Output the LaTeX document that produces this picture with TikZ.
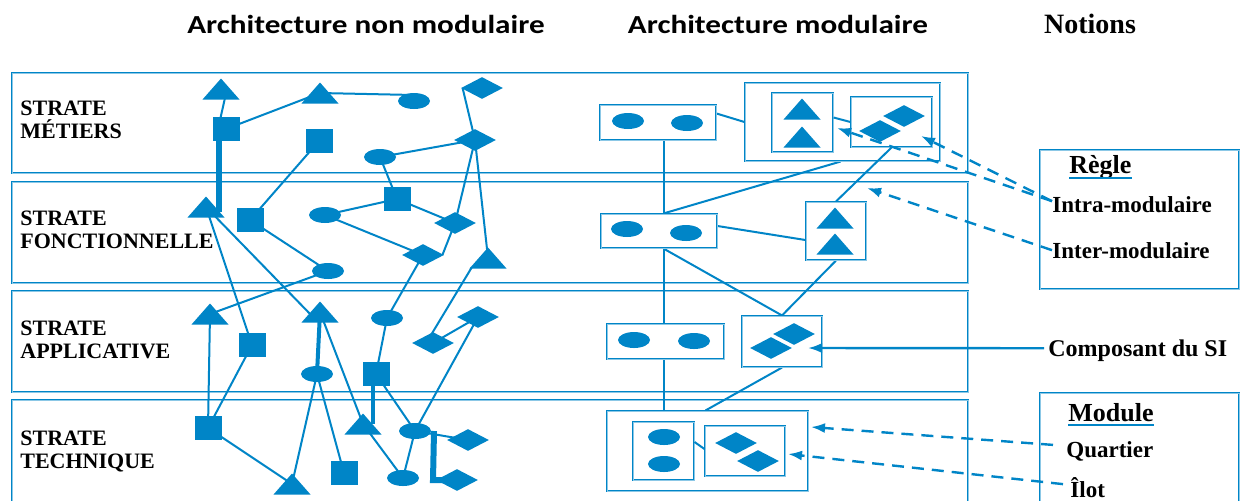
\documentclass[tikz,border=0pt]{standalone}
\usepackage{fontspec}
\setmainfont{Liberation Serif}
\newfontfamily\titlefont{Carlito}[FakeStretch=1.2]
\usetikzlibrary{shapes.geometric,arrows.meta,calc}
\definecolor{sb}{RGB}{0,133,199}
\pgfdeclarelayer{bg}
\pgfdeclarelayer{lines}
\pgfdeclarelayer{notes}
\pgfdeclarelayer{fg}
\pgfsetlayers{bg,lines,main,notes,fg}

\tikzset{
  frame/.style={draw=sb, line width=0.55pt, double=sb!45, double distance=0.35pt, fill=white, inner sep=0pt},
  sq/.style={rectangle, fill=sb, minimum width=13.5pt, minimum height=12pt, inner sep=0pt},
  ov/.style={ellipse, fill=sb, minimum width=16pt, minimum height=8pt, inner sep=0pt},
  rh/.style={diamond, fill=sb, minimum width=21pt, minimum height=11pt, inner sep=0pt},
  tri/.style={rectangle, minimum width=18.5pt, minimum height=10.5pt, inner sep=0pt,
    path picture={\fill[sb] (path picture bounding box.south west) -- (path picture bounding box.south east) -- (path picture bounding box.north) -- cycle;}},
  link/.style={draw=sb, line width=1pt},
  bond/.style={draw=sb, line width=3pt},
  bondmid/.style={draw=sb, line width=2pt},
  hint/.style={draw=sb, line width=1.2pt, dash pattern=on 6pt off 4pt, -{Latex[length=7pt,width=5pt]}},
  pointer/.style={draw=sb, line width=1.2pt, -{Latex[length=7pt,width=5pt]}},
  strat/.style={inner sep=0pt, anchor=base west, font=\bfseries\fontsize{11}{13}\selectfont},
  note/.style={inner sep=0pt, anchor=base west, font=\bfseries\fontsize{11.5}{13}\selectfont},
  head/.style={inner sep=0pt, anchor=base west, font=\bfseries\fontsize{13}{15}\selectfont},
  title/.style={inner sep=0pt, anchor=base, font=\titlefont\bfseries\fontsize{13}{15}\selectfont},
}

\begin{document}
\begin{tikzpicture}[x=0.5pt,y=-0.5pt]
\useasboundingbox (0,0) rectangle (1246,500);

% ---------- strata ----------
\begin{pgfonlayer}{bg}
  \node[frame, minimum width=478pt, minimum height=50pt] (sm) at (490,123) {};
  \node[frame, minimum width=478pt, minimum height=50.5pt] (sf) at (490,232.5) {};
  \node[frame, minimum width=478pt, minimum height=50.5pt] (sa) at (490,341.5) {};
  \node[frame, minimum width=478pt, minimum height=55pt] (st) at (490,455) {};
\end{pgfonlayer}

% ---------- titles ----------
\node[title] (h1) at (366,33) {Architecture non modulaire};
\node[title] (h2) at (778,33) {Architecture modulaire};
\node[inner sep=0pt, anchor=base, font=\bfseries\fontsize{14}{16}\selectfont] (h3) at (1090,33) {Notions};

% ---------- strata labels ----------
\node[strat] (lm1) at (20,115) {STRATE};
\node[strat] (lm2) at (20,138) {MÉTIERS};
\node[strat] (lf1) at (20,225) {STRATE};
\node[strat] (lf2) at (20,248) {FONCTIONNELLE};
\node[strat] (la1) at (20,335) {STRATE};
\node[strat] (la2) at (20,358) {APPLICATIVE};
\node[strat] (lt1) at (20,445) {STRATE};
\node[strat] (lt2) at (20,468) {TECHNIQUE};

% ---------- non modular components ----------
\begin{pgfonlayer}{fg}
  \node[tri] (t1) at (221,89) {};
  \node[sq]  (s1) at (226,129) {};
  \node[tri] (t3) at (320,93) {};
  \node[ov]  (e1) at (414,101) {};
  \node[rh]  (d1) at (482,88) {};
  \node[sq]  (s2) at (319,141) {};
  \node[rh]  (d2) at (475,140) {};
  \node[ov]  (e2) at (380,157) {};
  \node[tri] (t2) at (206,207) {};
  \node[sq]  (s3) at (250,220) {};
  \node[sq]  (s4) at (397,199) {};
  \node[ov]  (e3) at (325,215) {};
  \node[rh]  (d3) at (455,223) {};
  \node[rh]  (d4) at (423,255) {};
  \node[ov]  (e4) at (328,271) {};
  \node[tri] (t4) at (488,258) {};
  \node[tri] (t5) at (210,314) {};
  \node[sq]  (s5) at (252,345) {};
  \node[tri] (t6) at (320,312) {};
  \node[ov]  (e5) at (387,318) {};
  \node[rh]  (d5) at (433,343) {};
  \node[rh]  (d6) at (478,317) {};
  \node[ov]  (e6) at (317,374) {};
  \node[sq]  (s7) at (376,374) {};
  \node[sq]  (s6) at (208,428) {};
  \node[tri] (t7) at (363,424) {};
  \node[ov]  (e8) at (415,431) {};
  \node[rh]  (d7) at (468,440) {};
  \node[rh]  (d8) at (457,480) {};
  \node[tri] (t8) at (292,484) {};
  \node[sq]  (s8) at (344,473) {};
  \node[ov]  (e7) at (403,478) {};
  % modular components
  \node[ov]  (a1l) at (628,121) {};
  \node[ov]  (a1r) at (687,123) {};
  \node[tri] (m1ta) at (802,109) {};
  \node[tri] (m1tb) at (802,137) {};
  \node[rh]  (m1da) at (904,116) {};
  \node[rh]  (m1db) at (880,131) {};
  \node[ov]  (a2l) at (627,229) {};
  \node[ov]  (a2r) at (686,233) {};
  \node[tri] (fta) at (835,218) {};
  \node[tri] (ftb) at (835,244) {};
  \node[ov]  (a3l) at (634,340) {};
  \node[ov]  (a3r) at (694,341) {};
  \node[rh]  (d3a) at (794,334) {};
  \node[rh]  (d3b) at (771,348) {};
  \node[ov]  (toa) at (664,437) {};
  \node[ov]  (tob) at (664,464) {};
  \node[rh]  (tda) at (736,443) {};
  \node[rh]  (tdb) at (758,461) {};
\end{pgfonlayer}

% ---------- modules ----------
\node[frame, minimum width=58pt, minimum height=17.5pt] (A1) at (658,122.5) {};
\node[frame, minimum width=97.5pt, minimum height=39pt] (M1) at (842.5,122) {};
\node[frame, minimum width=30.5pt, minimum height=29.5pt] (M1t) at (802.5,122.5) {};
\node[frame, minimum width=40.5pt, minimum height=25pt] (M1d) at (891.5,122) {};
\node[frame, minimum width=58pt, minimum height=17pt] (A2) at (659,231) {};
\node[frame, minimum width=30pt, minimum height=29pt] (F) at (836,231) {};
\node[frame, minimum width=58.5pt, minimum height=17.5pt] (A3) at (665.5,341.5) {};
\node[frame, minimum width=40pt, minimum height=25.5pt] (D3) at (782,341.5) {};
\node[frame, minimum width=100.5pt, minimum height=40pt] (Tb) at (707.5,451) {};
\node[frame, minimum width=30.5pt, minimum height=29pt] (To) at (663.5,451) {};
\node[frame, minimum width=40pt, minimum height=25pt] (Td) at (745,451) {};

% ---------- notions ----------
\node[frame, minimum width=99.5pt, minimum height=69.5pt] (regbox) at (1139.5,219.5) {};
\node[frame, minimum width=99.5pt, minimum height=60pt] (modbox) at (1139.5,453) {};
\node[head] (regle) at (1069,173) {Règle};
\draw[sb, line width=1pt] ([yshift=-2.5pt]regle.base west) -- ([yshift=-2.5pt]regle.base east);
\node[note] (intra) at (1052,212) {Intra-modulaire};
\node[note] (inter) at (1052,258) {Inter-modulaire};
\node[inner sep=0pt, anchor=base west, font=\bfseries\fontsize{12}{14}\selectfont] (comp) at (1048,356) {Composant du SI};
\node[head] (module) at (1068,421) {Module};
\draw[sb, line width=1pt] ([yshift=-2pt]module.base west) -- ([yshift=-2pt]module.base east);
\node[note] (quart) at (1066,457) {Quartier};
\node[note] (ilot) at (1070,497) {Îlot};

% ---------- non modular links ----------
\begin{pgfonlayer}{lines}
  \draw[link] ($(s1.center)+(-8,0)$) -- ($(t1.center)+(6,0)$);
  \draw[bond] ($(s1.south)+(-7,0)$) -- ($(t2.center)+(13,5)$);
  \draw[link] (s1.center) -- (t3.center);
  \draw[link] (t3.center) -- ($(e1.center)+(0,-6)$);
  \draw[link] ($(d1.west)+(2,0)$) -- (d2.center);
  \draw[link] (s2.center) -- (s3.center);
  \draw[link] (e2.center) -- (d2.center);
  \draw[link] (e2.center) -- (s4.center);
  \draw[link] (d2.center) -- (t4.center);
  \draw[link] (d2.center) -- (d3.center);
  \draw[link] (s4.center) -- (d3.center);
  \draw[link] (e3.center) -- (s4.center);
  \draw[link] (e3.center) -- (d4.center);
  \draw[link] ($(d4.east)+(-2,0)$) -- (d3.center);
  \draw[link] (d4.center) -- (e5.center);
  \draw[link] ($(t4.center)+(-16,9)$) -- ($(d5.center)+(-2,-8)$);
  \draw[link] (t2.center) -- (s5.center);
  \draw[link] (t2.center) -- ($(t6.center)+(-6,6)$);
  \draw[link] (s3.center) -- (e4.center);
  \draw[link] (e4.center) -- (t5.center);
  \draw[link] (t5.center) -- (s6.center);
  \draw[link] (s5.center) -- (s6.center);
  \draw[bondmid] (t6.center) -- (e6.center);
  \draw[link] (t6.center) -- (t7.center);
  \draw[link] (e5.center) -- (s7.center);
  \draw[bondmid] ($(s7.center)+(-3,0)$) -- ($(t7.center)+(10,0)$);
  \draw[link] (s7.center) -- (e8.center);
  \draw[link] (d6.center) -- (e8.center);
  \draw[link] (d5.center) -- (d6.center);
  \draw[link] (e6.center) -- (t8.center);
  \draw[link] (s6.center) -- (t8.center);
  \draw[link] (e6.center) -- (s8.center);
  \draw[link] (t7.center) -- (e7.center);
  \draw[link] (e8.center) -- (e7.center);
  \draw[link] (e8.center) -- (d7.center);
  \draw[bond] ($(e8.center)+(19,0)$) -- ($(d8.center)+(-24,0)$) -- (d8.center);
  % modular links
  \draw[link] ($(A1.east)+(0,-9)$) -- (M1.west);
  \draw[link] (A1.south -| To.north) -- (To.north);
  \draw[link] (A2.north -| To.north) -- ($(M1.south)+(-2,0)$);
  \draw[link] ($(A2.east)+(0,-5)$) -- ($(F.west)+(0,9)$);
  \draw[link] (A2.south -| To.north) -- (D3.north);
  \draw[link] (F.south) -- (D3.north);
  \draw[link] (D3.south) -- ($(Tb.north)+(-2,0)$);
\end{pgfonlayer}

% ---------- links inside modules and notion pointers ----------
\begin{pgfonlayer}{notes}
  \draw[link] (F.north) -- (M1d.south);
  \draw[link] ($(M1t.east)+(0,-5)$) -- (M1d.west);
  \draw[link] ($(To.east)+(0,-9)$) -- ($(Td.west)+(0,-2)$);
  \coordinate (c1) at (921,136);
  \coordinate (c2) at (837,128);
  \coordinate (c3) at (867,188);
  \coordinate (c4) at (808,348);
  \coordinate (c5) at (811,427);
  \coordinate (c6) at (788,454);
  \draw[hint] ($(intra.west)+(0,-3)$) -- (c1);
  \draw[hint] ($(intra.west)+(0,-3)$) -- (c2);
  \draw[hint] (inter.west) -- (c3);
  \draw[pointer] ($(comp.west)+(-4,-2)$) -- (c4);
  \draw[hint] ($(quart.west)+(-13,-6)$) -- (c5);
  \draw[hint] ($(ilot.west)+(-7,-3)$) -- (c6);
\end{pgfonlayer}
\end{tikzpicture}
\end{document}
